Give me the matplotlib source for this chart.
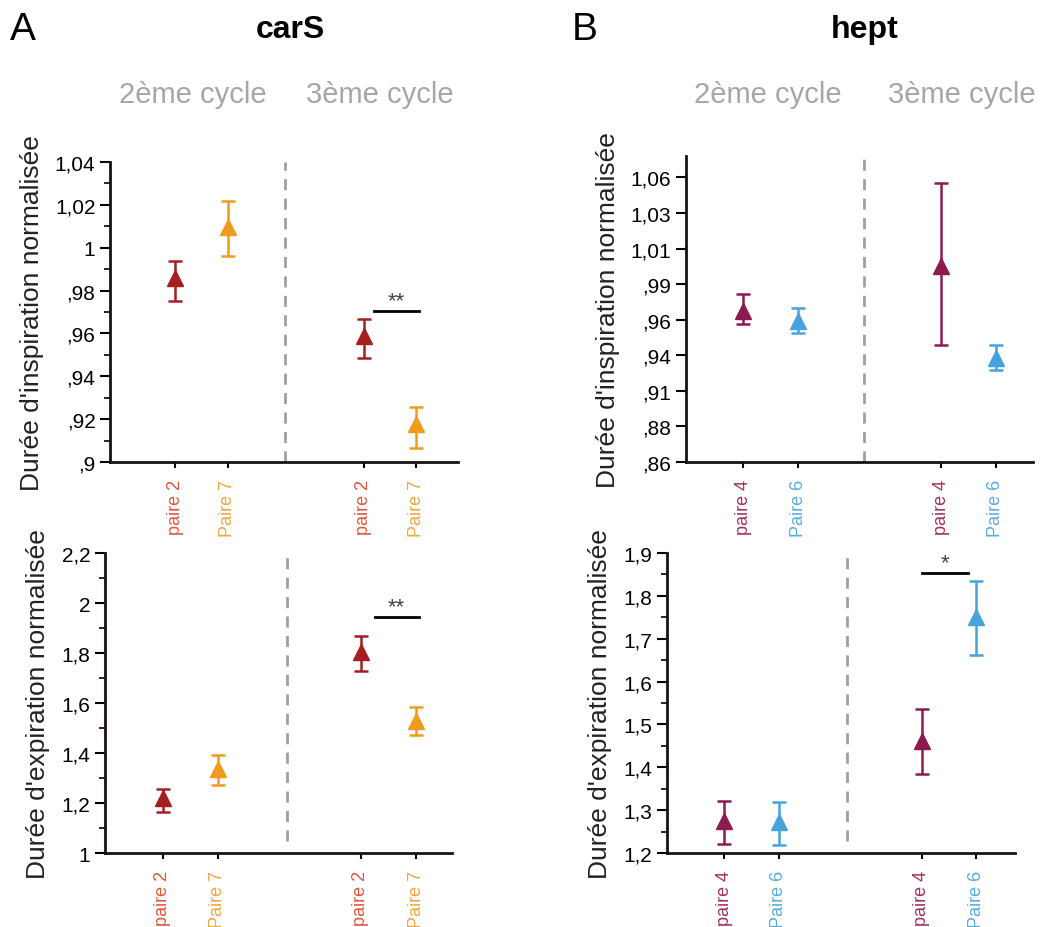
import matplotlib.pyplot as plt
from matplotlib.ticker import MultipleLocator

# positions des paires sur l'axe x (2eme cycle, 3eme cycle)
xpos = [1, 2, 4.6, 5.6]

# A - carS
a_labels = ["paire 2", "Paire 7", "paire 2", "Paire 7"]
a_insp = [0.986, 1.0095, 0.9588, 0.9177]
a_insp_lo = [0.975, 0.996, 0.9485, 0.9065]
a_insp_hi = [0.9938, 1.022, 0.9667, 0.9257]
a_exp = [1.22, 1.336, 1.804, 1.528]
a_exp_lo = [1.164, 1.272, 1.728, 1.472]
a_exp_hi = [1.256, 1.392, 1.868, 1.584]

# B - hept
b_labels = ["paire 4", "Paire 6", "paire 4", "Paire 6"]
b_insp = [0.966, 0.959, 0.998, 0.933]
b_insp_lo = [0.957, 0.951, 0.942, 0.925]
b_insp_hi = [0.978, 0.968, 1.056, 0.942]
b_exp = [1.275, 1.272, 1.461, 1.751]
b_exp_lo = [1.221, 1.218, 1.384, 1.662]
b_exp_hi = [1.321, 1.318, 1.536, 1.835]

# ticks
a_insp_ticks = [0.90, 0.92, 0.94, 0.96, 0.98, 1.00, 1.02, 1.04]
a_insp_ticklab = [",9", ",92", ",94", ",96", ",98", "1", "1,02", "1,04"]
a_exp_ticks = [1.0, 1.2, 1.4, 1.6, 1.8, 2.0, 2.2]
a_exp_ticklab = ["1", "1,2", "1,4", "1,6", "1,8", "2", "2,2"]
b_insp_ticks = [0.86, 0.885, 0.91, 0.935, 0.96, 0.985, 1.01, 1.035, 1.06]
b_insp_ticklab = [",86", ",88", ",91", ",94", ",96", ",99", "1,01", "1,03", "1,06"]
b_exp_ticks = [1.2, 1.3, 1.4, 1.5, 1.6, 1.7, 1.8, 1.9]
b_exp_ticklab = ["1,2", "1,3", "1,4", "1,5", "1,6", "1,7", "1,8", "1,9"]

# couleurs
a_marker = ["#a51e22", "#f29a1c", "#a51e22", "#f29a1c"]
a_text = ["#e4553b", "#f3a640", "#e4553b", "#f3a640"]
b_marker = ["#8c1a50", "#47a3de", "#8c1a50", "#47a3de"]
b_text = ["#a3305f", "#58ade2", "#a3305f", "#58ade2"]

plt.rcParams['font.family'] = ['Liberation Sans', 'DejaVu Sans']
fig = plt.figure(figsize=(10.51, 9.28), dpi=100)


def panel(rect, vals, lo, hi, mcol, tcol, labels, ticks, ticklab, ylim, xlim,
          xdash, ylabel, minor=None, sig=None, dash_bottom=0.0):
    ax = fig.add_axes(rect)
    for i in range(4):
        ax.errorbar(xpos[i], vals[i], yerr=[[vals[i] - lo[i]], [hi[i] - vals[i]]],
                    fmt='^', color=mcol[i], ms=11, elinewidth=1.8, capsize=5,
                    capthick=1.8)
    ax.set_xlim(xlim)
    ax.set_ylim(ylim)
    ax.set_yticks(ticks)
    ax.set_yticklabels(ticklab, fontsize=15)
    if minor:
        ax.yaxis.set_minor_locator(MultipleLocator(minor))
    ax.tick_params(axis='y', which='major', length=7, width=1.5, direction='out')
    ax.tick_params(axis='y', which='minor', length=4, width=1.2, direction='out')
    ax.set_xticks(xpos)
    ax.set_xticklabels(labels, rotation=90, fontsize=13)
    for t, c in zip(ax.get_xticklabels(), tcol):
        t.set_color(c)
    ax.tick_params(axis='x', length=4, width=1.5, pad=8)
    for s in ['top', 'right']:
        ax.spines[s].set_visible(False)
    for s in ['left', 'bottom']:
        ax.spines[s].set_linewidth(2)
        ax.spines[s].set_color('#1a1210')
    ax.axvline(xdash, ymin=dash_bottom, ymax=1, color='#a0a0a0', ls=(0, (4, 3)), lw=2)
    ax.set_ylabel(ylabel, fontsize=19, color='#222222', labelpad=8)
    if sig:
        x0, x1, y, txt = sig
        ax.plot([x0, x1], [y, y], color='black', lw=2)
        ax.text((x0 + x1) / 2, y, txt, ha='center', va='bottom', fontsize=16,
                color='#444444')
    return ax


axA1 = panel([0.1047, 0.501, 0.331, 0.3233], a_insp, a_insp_lo, a_insp_hi,
             a_marker, a_text, a_labels, a_insp_ticks, a_insp_ticklab,
             (0.9, 1.04), (-0.25, 6.4), 3.1, "Durée d'inspiration normalisée",
             minor=0.01, sig=(4.8, 5.65, 0.9705, "**"))
axA2 = panel([0.0999, 0.0797, 0.330, 0.3233], a_exp, a_exp_lo, a_exp_hi,
             a_marker, a_text, a_labels, a_exp_ticks, a_exp_ticklab,
             (1.0, 2.2), (-0.05, 6.25), 3.25, "Durée d'expiration normalisée",
             minor=0.1, sig=(4.85, 5.65, 1.944, "**"), dash_bottom=0.04)
axB1 = panel([0.6527, 0.501, 0.330, 0.3297], b_insp, b_insp_lo, b_insp_hi,
             b_marker, b_text, b_labels, b_insp_ticks, b_insp_ticklab,
             (0.86, 1.075), (-0.04, 6.27), 3.2, "Durée d'inspiration normalisée")
axB2 = panel([0.6346, 0.0797, 0.331, 0.3233], b_exp, b_exp_lo, b_exp_hi,
             b_marker, b_text, b_labels, b_exp_ticks, b_exp_ticklab,
             (1.2, 1.9), (-0.04, 6.3), 3.25, "Durée d'expiration normalisée",
             minor=0.05, sig=(4.6, 5.45, 1.853, "*"), dash_bottom=0.04)

# titres
fig.text(10 / 1051, 1 - 30 / 928, "A", fontsize=28, va='center', ha='left')
fig.text(572 / 1051, 1 - 30 / 928, "B", fontsize=28, va='center', ha='left')
fig.text(290 / 1051, 1 - 30 / 928, "carS", fontsize=23, fontweight='bold',
         va='center', ha='center')
fig.text(865 / 1051, 1 - 30 / 928, "hept", fontsize=23, fontweight='bold',
         va='center', ha='center')
for xc, txt in [(193, "2ème cycle"), (380, "3ème cycle"),
                (768, "2ème cycle"), (962, "3ème cycle")]:
    fig.text(xc / 1051, 1 - 95 / 928, txt, fontsize=21, color='#a6a6a6',
             va='center', ha='center')

fig.savefig("out.png", dpi=100)
